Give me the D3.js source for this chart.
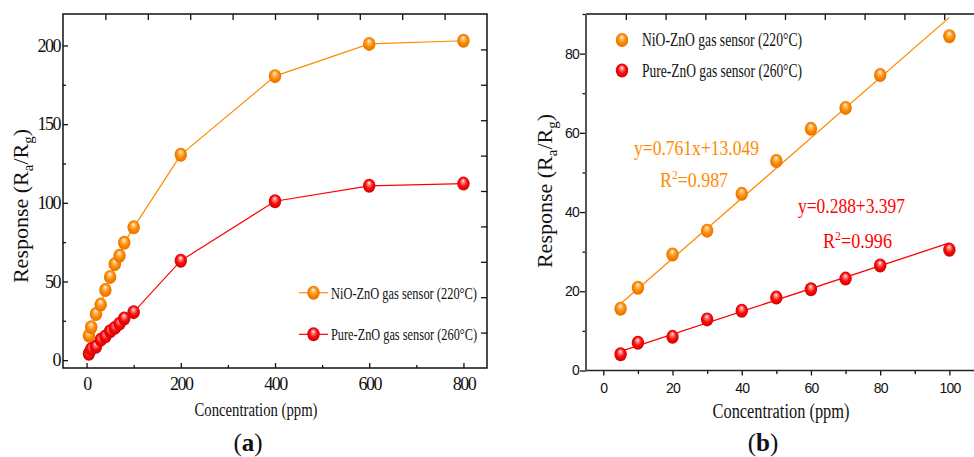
<!DOCTYPE html>
<html>
<head>
<meta charset="utf-8">
<script src="https://cdn.jsdelivr.net/npm/d3@7"></script>
<style>
  body { margin: 0; background: #fff; }
  svg { display: block; }
</style>
</head>
<body>
<div id="chart"></div>
<script>
// concentrations (ppm)
const concLow = [5, 10, 20, 30, 40, 50, 60, 70, 80, 100];
const concHigh = [200, 400, 600, 800];
// responses Ra/Rg
const nioLow = [15.6, 20.9, 29.3, 35.3, 44.6, 52.9, 61.0, 66.3, 74.6, 84.4];
const pureLow = [4.1, 7.0, 8.5, 12.9, 15.1, 18.4, 20.5, 23.2, 26.5, 30.5];
const nioHigh = [130.5, 180.5, 201, 203];
const pureHigh = [63.2, 101, 110.8, 112.2];

const seriesNames = ["NiO-ZnO gas sensor (220°C)", "Pure-ZnO gas sensor (260°C)"];
const seriesColors = ["#ff8a00", "#ff0000"];
const fitSlopes = [0.761, 0.288];
const fitIntercepts = [13.049, 3.397];
const fitEquations = ["y=0.761x+13.049", "y=0.288+3.397"];
const fitR2 = ["0.987", "0.996"];

const ticksAx = [0, 200, 400, 600, 800];
const minorAx = [100, 300, 500, 700];
const ticksAy = [0, 50, 100, 150, 200];
const minorAy = [25, 75, 125, 175];
const ticksBx = [0, 20, 40, 60, 80, 100];
const minorBx = [10, 30, 50, 70, 90];
const ticksBy = [0, 20, 40, 60, 80];
const minorBy = [10, 30, 50, 70, 90];

const svg = d3.select("#chart").append("svg")
  .attr("width", 974).attr("height", 457);

const defs = svg.append("defs");
function sphereGradient(id, mid, edge, glow) {
  const gr = defs.append("radialGradient").attr("id", id)
    .attr("cx", "50%").attr("cy", "50%").attr("r", "55%")
    .attr("fx", "48%").attr("fy", "28%");
  gr.append("stop").attr("offset", "0%").attr("stop-color", "#ffffff");
  gr.append("stop").attr("offset", "18%").attr("stop-color", glow);
  gr.append("stop").attr("offset", "55%").attr("stop-color", mid);
  gr.append("stop").attr("offset", "100%").attr("stop-color", edge);
}
sphereGradient("ballOrange", "#ff8c00", "#e06a00", "#ffc98a");
sphereGradient("ballRed", "#ff0a0a", "#c80000", "#ff9a9a");
const balls = ["url(#ballOrange)", "url(#ballRed)"];

const serif = "'Liberation Serif', 'Times New Roman', serif";
const sans = "'Liberation Sans', Arial, sans-serif";

function drawBalls(g, xs, ys, x, y, fill) {
  g.selectAll(null)
    .data(xs.map((c, i) => ({ c: c, v: ys[i] })))
    .enter().append("ellipse")
    .attr("cx", d => x(d.c))
    .attr("cy", d => y(d.v))
    .attr("rx", 6.2).attr("ry", 7)
    .attr("fill", fill);
}

function styleTicks(g, font, size, spacing) {
  g.select(".domain").remove();
  g.selectAll("line").attr("stroke", "#111").attr("stroke-width", 1.3);
  g.selectAll("text")
    .attr("font-family", font).attr("font-size", size)
    .attr("letter-spacing", spacing).attr("fill", "#111");
}

// ---------- panel (a) ----------
const A = { left: 63, right: 487, top: 14, bottom: 368 };
const xa = d3.scaleLinear().domain([-50, 850]).range([A.left, A.right]);
const ya = d3.scaleLinear().domain([-5, 220]).range([A.bottom, A.top]);
const ga = svg.append("g");

ga.append("g").attr("transform", `translate(0,${A.bottom})`)
  .call(d3.axisBottom(xa).tickValues(ticksAx).tickSize(-5).tickPadding(9))
  .call(g => styleTicks(g, serif, 18, -1.5));
ga.append("g").attr("transform", `translate(0,${A.bottom})`)
  .call(d3.axisBottom(xa).tickValues(minorAx).tickSize(-3).tickFormat(""))
  .call(g => styleTicks(g, serif, 18, 0));
ga.append("g").attr("transform", `translate(${A.left},0)`)
  .call(d3.axisLeft(ya).tickValues(ticksAy).tickSize(-5).tickPadding(3))
  .call(g => styleTicks(g, serif, 18, -1.5));
ga.append("g").attr("transform", `translate(${A.left},0)`)
  .call(d3.axisLeft(ya).tickValues(minorAy).tickSize(-3).tickFormat(""))
  .call(g => styleTicks(g, serif, 18, 0));

// mirror ticks: ten equal divisions on top and right
const divAx = d3.scaleLinear().domain([0, 10]).range([A.left, A.right]);
const divAy = d3.scaleLinear().domain([0, 10]).range([A.bottom, A.top]);
ga.append("g").attr("transform", `translate(0,${A.top})`)
  .call(d3.axisTop(divAx).tickValues(d3.range(1, 10)).tickSize(-6).tickFormat(""))
  .call(g => styleTicks(g, serif, 18, 0));
ga.append("g").attr("transform", `translate(${A.right},0)`)
  .call(d3.axisRight(divAy).tickValues(d3.range(1, 10)).tickSize(-6).tickFormat(""))
  .call(g => styleTicks(g, serif, 18, 0));

ga.append("rect")
  .attr("x", A.left).attr("y", A.top)
  .attr("width", A.right - A.left).attr("height", A.bottom - A.top)
  .attr("fill", "none").attr("stroke", "#111").attr("stroke-width", 1.5);

const lineA = d3.line().x(d => xa(d[0])).y(d => ya(d[1]));
const concAll = concLow.concat(concHigh);
const seriesA = [nioLow.concat(nioHigh), pureLow.concat(pureHigh)];
seriesA.forEach((vals, i) => {
  ga.append("path")
    .datum(concAll.map((c, k) => [c, vals[k]]))
    .attr("d", lineA)
    .attr("fill", "none")
    .attr("stroke", seriesColors[i])
    .attr("stroke-width", 1.2);
});
seriesA.forEach((vals, i) => drawBalls(ga, concAll, vals, xa, ya, balls[i]));

// legend (a)
seriesNames.forEach((name, i) => {
  const ly = [292.7, 334.3][i];
  ga.append("line").attr("x1", 299).attr("x2", 328).attr("y1", ly).attr("y2", ly)
    .attr("stroke", seriesColors[i]).attr("stroke-width", 1.2);
  ga.append("ellipse").attr("cx", 313.5).attr("cy", ly).attr("rx", 6.2).attr("ry", 7)
    .attr("fill", balls[i]);
  ga.append("text").attr("x", 331).attr("y", ly + 6)
    .attr("font-family", serif).attr("font-size", 17).attr("fill", "#111")
    .attr("textLength", 146).attr("lengthAdjust", "spacingAndGlyphs")
    .text(name);
});

function yTitle(g, cx, cy) {
  const t = g.append("text")
    .attr("transform", `translate(${cx},${cy}) rotate(-90)`)
    .attr("text-anchor", "middle")
    .attr("font-family", serif).attr("font-size", 22).attr("fill", "#111");
  t.append("tspan").text("Response (R");
  t.append("tspan").attr("font-size", 15).attr("dy", 5).text("a");
  t.append("tspan").attr("dy", -5).text("/R");
  t.append("tspan").attr("font-size", 15).attr("dy", 5).text("g");
  t.append("tspan").attr("dy", -5).text(")");
}
yTitle(ga, 28, 206);

ga.append("text").attr("x", 256).attr("y", 416).attr("text-anchor", "middle")
  .attr("font-family", serif).attr("font-size", 19).attr("fill", "#111")
  .attr("textLength", 123).attr("lengthAdjust", "spacingAndGlyphs")
  .text("Concentration (ppm)");

function panelLabel(g, cx, letter) {
  const t = g.append("text").attr("x", cx).attr("y", 451).attr("text-anchor", "middle")
    .attr("font-family", serif).attr("font-size", 25).attr("fill", "#111");
  t.append("tspan").text("(");
  t.append("tspan").attr("font-weight", "bold").text(letter);
  t.append("tspan").text(")");
}
panelLabel(ga, 248, "a");

// ---------- panel (b) ----------
const B = { left: 586, right: 984, top: 14, bottom: 370.5 };
const xb = d3.scaleLinear().domain([-5, 110]).range([B.left, B.right]);
const yb = d3.scaleLinear().domain([0, 90]).range([B.bottom, B.top]);
const gb = svg.append("g");

gb.append("g").attr("transform", `translate(0,${B.bottom})`)
  .call(d3.axisBottom(xb).tickValues(ticksBx).tickSize(5).tickPadding(7.5))
  .call(g => styleTicks(g, sans, 14, -0.8));
gb.append("g").attr("transform", `translate(0,${B.bottom})`)
  .call(d3.axisBottom(xb).tickValues(minorBx).tickSize(3.5).tickFormat(""))
  .call(g => styleTicks(g, sans, 14, 0));
gb.append("g").attr("transform", `translate(${B.left},0)`)
  .call(d3.axisLeft(yb).tickValues(ticksBy).tickSize(6).tickPadding(1))
  .call(g => styleTicks(g, sans, 14, -0.8));
gb.append("g").attr("transform", `translate(${B.left},0)`)
  .call(d3.axisLeft(yb).tickValues(minorBy).tickSize(3.5).tickFormat(""))
  .call(g => styleTicks(g, sans, 14, 0));
const divBx = d3.scaleLinear().domain([0, 10]).range([B.left, B.right]);
gb.append("g").attr("transform", `translate(0,${B.top})`)
  .call(d3.axisTop(divBx).tickValues(d3.range(1, 10)).tickSize(-6).tickFormat(""))
  .call(g => styleTicks(g, sans, 14, 0));

gb.append("line").attr("x1", B.left).attr("x2", B.right).attr("y1", B.top).attr("y2", B.top)
  .attr("stroke", "#111").attr("stroke-width", 1.5);
gb.append("line").attr("x1", B.left).attr("x2", B.right).attr("y1", B.bottom).attr("y2", B.bottom)
  .attr("stroke", "#222").attr("stroke-width", 1.5);
gb.append("line").attr("x1", B.left).attr("x2", B.left).attr("y1", B.top).attr("y2", B.bottom)
  .attr("stroke", "#555").attr("stroke-width", 2);

// linear fits from 5 to 100 ppm
const fitRange = [concLow[0], concLow[concLow.length - 1]];
const lineB = d3.line().x(d => xb(d[0])).y(d => yb(d[1]));
fitSlopes.forEach((s, i) => {
  gb.append("path")
    .datum(fitRange.map(c => [c, s * c + fitIntercepts[i]]))
    .attr("d", lineB)
    .attr("fill", "none")
    .attr("stroke", seriesColors[i])
    .attr("stroke-width", 1.3);
});
[nioLow, pureLow].forEach((vals, i) => drawBalls(gb, concLow, vals, xb, yb, balls[i]));

// legend (b)
seriesNames.forEach((name, i) => {
  const ly = [40, 70.5][i];
  gb.append("ellipse").attr("cx", 622).attr("cy", ly).attr("rx", 6.2).attr("ry", 7)
    .attr("fill", balls[i]);
  gb.append("text").attr("x", 642).attr("y", ly + 6)
    .attr("font-family", serif).attr("font-size", 18).attr("fill", "#111")
    .attr("textLength", 160).attr("lengthAdjust", "spacingAndGlyphs")
    .text(name);
});

// fit annotations
const eqPos = [[634, 155, 125], [798, 213, 107]];
const r2Pos = [[660, 187, 68], [823, 248, 69]];
fitEquations.forEach((eq, i) => {
  gb.append("text").attr("x", eqPos[i][0]).attr("y", eqPos[i][1])
    .attr("font-family", serif).attr("font-size", 20).attr("fill", seriesColors[i])
    .attr("textLength", eqPos[i][2]).attr("lengthAdjust", "spacingAndGlyphs")
    .text(eq);
  const t = gb.append("text").attr("x", r2Pos[i][0]).attr("y", r2Pos[i][1])
    .attr("font-family", serif).attr("font-size", 20).attr("fill", seriesColors[i])
    .attr("textLength", r2Pos[i][2]).attr("lengthAdjust", "spacingAndGlyphs");
  t.append("tspan").text("R");
  t.append("tspan").attr("font-size", 13).attr("dy", -8).text("2");
  t.append("tspan").attr("dy", 8).text("=" + fitR2[i]);
});

yTitle(gb, 552, 191);

gb.append("text").attr("x", 781).attr("y", 418).attr("text-anchor", "middle")
  .attr("font-family", serif).attr("font-size", 20).attr("fill", "#111")
  .attr("textLength", 137).attr("lengthAdjust", "spacingAndGlyphs")
  .text("Concentration (ppm)");

panelLabel(gb, 763, "b");
</script>
</body>
</html>
